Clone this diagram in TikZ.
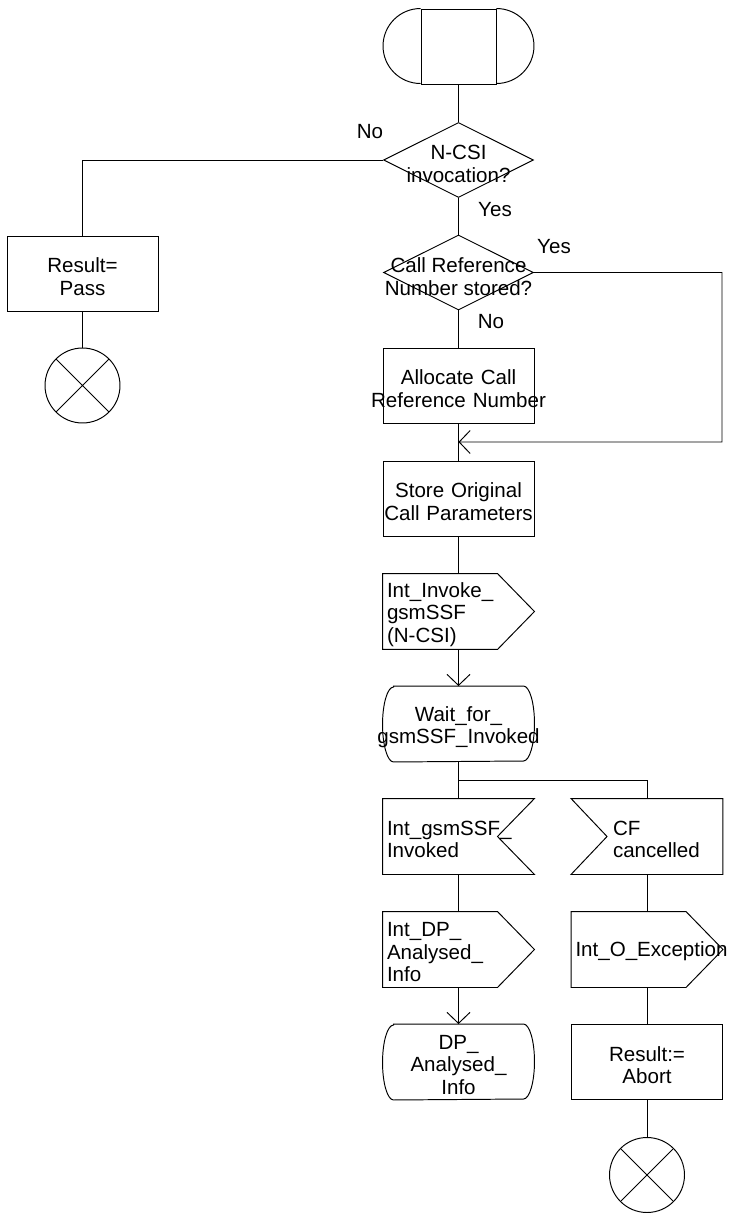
\documentclass[tikz,border=0pt]{standalone}
\usepackage{fontspec}
\setmainfont{Liberation Sans}
\usetikzlibrary{arrows.meta, positioning, calc, shapes.geometric}
\hyphenpenalty=10000

\begin{document}
\begin{tikzpicture}[
            x=0.02cm, y=-0.02cm,
            font=\fontsize{11.7}{12.8}\selectfont,
            line width=0.55pt,
            >={Straight Barb[length=0.22cm, width=0.46cm]},
            lower/.style   ={execute at end node={\endgraf\vspace*{-0.12cm}}},
            term/.style    ={draw, rectangle, minimum size=1.5cm, inner sep=0pt},
            box/.style     ={draw, rectangle, minimum width=3.02cm, minimum height=1.5cm, lower,
                             inner xsep=0pt, inner ysep=0.05cm, text width=3.02cm, align=center},
            sig/.style     ={rectangle, minimum width=3.02cm, minimum height=1.5cm, lower,
                             inner xsep=0.08cm, inner ysep=0.05cm, text width=2.86cm, align=left},
            waitst/.style  ={rectangle, minimum width=3.02cm, minimum height=1.5cm, lower,
                             inner xsep=0pt, inner ysep=0.05cm, text width=3.02cm, align=center},
            cond/.style    ={draw, diamond, minimum width=3cm, minimum height=1.5cm, inner sep=0pt},
            endsym/.style  ={draw, circle, minimum size=1.5cm, inner sep=0pt,
                             path picture={\draw (path picture bounding box.north west) -- (path picture bounding box.south east)
                                                 (path picture bounding box.north east) -- (path picture bounding box.south west);}},
            lbl/.style     ={inner sep=1pt}
        ]
        \useasboundingbox (0,0) rectangle (729,1213);

        \node[term] (start) at (458.5,46.5) {};
        \node[cond, label={[name=d1t, align=center, yshift=-0.08cm]center:N-CSI\\invocation?}] (d1) at (458.5,160) {};
        \node[cond, label={[name=d2t, align=center, yshift=-0.08cm]center:Call Reference\\Number stored?}] (d2) at (458.5,272.5) {};
        \node[box] (pass) at (82.5,273.5) {Result=\\Pass};
        \node[endsym] (endL) at (82.5,385.5) {};
        \node[box] (alloc) at (458.5,385.5) {Allocate Call\\\makebox[\linewidth]{Reference Number}};
        \node[box] (store) at (458.5,498.5) {Store Original\\Call Parameters};
        \node[sig] (invoke) at (458.5,611.5) {Int\_Invoke\_\\gsmSSF\\(N-CSI)};
        \node[waitst] (wait) at (458.5,724) {Wait\_for\_\\\makebox[\linewidth]{gsmSSF\_Invoked}};
        \node[sig] (inA) at (458.5,836.5) {Int\_gsmSSF\_\\Invoked};
        \node[sig, text width=1.36cm] (cf) at (647,836.5) {CF\\cancelled};
        \node[sig] (dpout) at (458.5,949.5) {Int\_DP\_\\Analysed\_\\Info};
        \node[sig] (oexc) at (647,949.5) {Int\_O\_Exception};
        \node[waitst] (dpstate) at (458.5,1062) {DP\_\\Analysed\_\\Info};
        \node[box] (abort) at (647,1062) {Result:=\\Abort};
        \node[endsym] (endR) at (647,1175) {};

        \node[lbl] (no1) at (370,132) {No};
        \node[lbl] (yes1) at (495,210) {Yes};
        \node[lbl] (yes2) at (554,247) {Yes};
        \node[lbl] (no2) at (491,322) {No};

        % shape outlines
        \draw (start.north west) arc[start angle=90, end angle=270, radius=0.75cm];
        \draw (start.north east) arc[start angle=90, end angle=-90, radius=0.75cm];
        \foreach \n in {invoke,dpout,oexc}{
            \draw (\n.north west) -- ([xshift=-0.74cm]\n.north east) -- (\n.east)
                  -- ([xshift=-0.74cm]\n.south east) -- (\n.south west) -- cycle;}
        \foreach \n in {wait,dpstate}{
            \draw ([xshift=0.22cm]\n.north west) -- ([xshift=-0.22cm]\n.north east)
                  arc[start angle=90, end angle=-90, x radius=0.22cm, y radius=0.75cm]
                  -- ([xshift=0.22cm]\n.south west)
                  arc[start angle=270, end angle=90, x radius=0.22cm, y radius=0.75cm] -- cycle;}
        \draw (inA.north west) -- (inA.north east) -- ([xshift=-0.74cm]inA.east)
              -- (inA.south east) -- (inA.south west) -- cycle;
        \draw (cf.north west) -- (cf.north east) -- (cf.south east)
              -- (cf.south west) -- ([xshift=0.72cm]cf.west) -- cycle;

        % connectors
        \draw (start) -- (d1);
        \draw (d1.west) -| (pass);
        \draw (pass) -- (endL);
        \draw (d1) -- (d2);
        \draw (d2) -- (alloc);
        \coordinate (join) at ($(alloc.south)!.5!(store.north)$);
        \coordinate (loop) at (722,442);
        \draw[->] (d2.east) -| (loop) -- (join);
        \draw (alloc) -- (store);
        \draw (store) -- (invoke);
        \draw[->] (invoke) -- (wait);
        \coordinate (fork) at ($(wait.south)!.5!(inA.north)$);
        \draw (wait) -- (inA);
        \draw (fork) -| (cf);
        \draw (inA) -- (dpout);
        \draw[->] (dpout) -- (dpstate);
        \draw (cf) -- (oexc);
        \draw (oexc) -- (abort);
        \draw (abort) -- (endR);

    \end{tikzpicture}
\end{document}
